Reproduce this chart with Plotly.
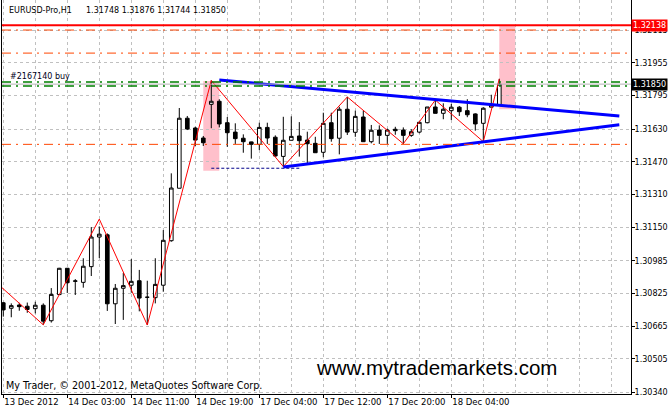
import plotly.graph_objects as go

# ---------------- data ----------------
bar_idx = list(range(63))  # hourly bars, 13 Dec 19:00 ... 18 Dec 10:00

open_ = [1.30779, 1.30752, 1.30768, 1.30762, 1.30750, 1.30767, 1.30691, 1.30819, 1.30948, 1.30884,
         1.30879, 1.30956, 1.31101, 1.31112, 1.30774, 1.30850, 1.30865, 1.30887, 1.30806, 1.30804,
         1.30865, 1.31083, 1.31340, 1.31683, 1.31635, 1.31586, 1.31751, 1.31766, 1.31661, 1.31615,
         1.31585, 1.31567, 1.31555, 1.31638, 1.31590, 1.31496, 1.31575, 1.31596, 1.31576, 1.31560,
         1.31516, 1.31661, 1.31585, 1.31727, 1.31614, 1.31689, 1.31568, 1.31625, 1.31599, 1.31629,
         1.31625, 1.31599, 1.31615, 1.31661, 1.31738, 1.31707, 1.31720, 1.31737, 1.31720, 1.31704,
         1.31658, 1.31737, 1.31748]
high_ = [1.30783, 1.30776, 1.30779, 1.30780, 1.30784, 1.30776, 1.30851, 1.30950, 1.30949, 1.30895,
         1.30997, 1.31150, 1.31153, 1.31119, 1.30871, 1.30925, 1.30993, 1.30940, 1.30887, 1.30997,
         1.31135, 1.31413, 1.31733, 1.31694, 1.31641, 1.31596, 1.31868, 1.31776, 1.31689, 1.31658,
         1.31604, 1.31568, 1.31661, 1.31661, 1.31599, 1.31690, 1.31692, 1.31664, 1.31617, 1.31592,
         1.31710, 1.31710, 1.31739, 1.31788, 1.31720, 1.31720, 1.31650, 1.31648, 1.31632, 1.31641,
         1.31638, 1.31629, 1.31666, 1.31738, 1.31772, 1.31756, 1.31753, 1.31743, 1.31776, 1.31707,
         1.31737, 1.31798, 1.31876]
low_ = [1.30711, 1.30708, 1.30740, 1.30730, 1.30727, 1.30671, 1.30682, 1.30818, 1.30827, 1.30817,
        1.30853, 1.30910, 1.30998, 1.30739, 1.30675, 1.30695, 1.30828, 1.30737, 1.30670, 1.30776,
        1.30833, 1.31078, 1.31340, 1.31625, 1.31547, 1.31547, 1.31634, 1.31638, 1.31543, 1.31557,
        1.31514, 1.31485, 1.31527, 1.31557, 1.31495, 1.31446, 1.31575, 1.31495, 1.31459, 1.31514,
        1.31492, 1.31568, 1.31506, 1.31601, 1.31592, 1.31567, 1.31560, 1.31557, 1.31557, 1.31602,
        1.31557, 1.31592, 1.31609, 1.31658, 1.31707, 1.31678, 1.31674, 1.31694, 1.31688, 1.31622,
        1.31568, 1.31737, 1.31744]
close_ = [1.30744, 1.30765, 1.30760, 1.30746, 1.30767, 1.30689, 1.30820, 1.30948, 1.30877, 1.30886,
          1.30958, 1.31101, 1.31115, 1.30774, 1.30850, 1.30863, 1.30884, 1.30802, 1.30806, 1.30869,
          1.31085, 1.31341, 1.31683, 1.31630, 1.31576, 1.31563, 1.31766, 1.31655, 1.31612, 1.31583,
          1.31568, 1.31555, 1.31638, 1.31586, 1.31498, 1.31575, 1.31594, 1.31573, 1.31558, 1.31514,
          1.31658, 1.31583, 1.31727, 1.31615, 1.31692, 1.31568, 1.31624, 1.31599, 1.31625, 1.31622,
          1.31599, 1.31617, 1.31663, 1.31738, 1.31707, 1.31727, 1.31737, 1.31715, 1.31700, 1.31655,
          1.31732, 1.31748, 1.31850]

# ZigZag indicator pivots (bar index, price)
zz_idx = [-4, 5, 12, 18, 26, 35, 43, 50, 54, 60, 62]
zz_val = [1.30988, 1.30671, 1.31189, 1.30670, 1.31868, 1.31446, 1.31787, 1.31558, 1.31772, 1.31568, 1.31876]

# triangle trend lines
upper_idx = [27, 77]
upper_val = [1.31870, 1.31694]
lower_idx = [35, 77]
lower_val = [1.31444, 1.31651]
dotted_idx = [26, 37]
dotted_val = [1.31438, 1.31438]

# pink signal boxes: (bar from, bar to, price low, price high)
pink_boxes = [(25, 27, 1.31426, 1.31865), (62, 64, 1.31727, 1.32138)]

# horizontal levels
red_level = 1.32138
orange_levels = [1.32115, 1.32002, 1.31555]
green_levels = [1.31860, 1.31841]
bid_level = 1.31850

# axes
x_tick_idx = [0, 8, 16, 24, 32, 40, 48, 56]
x_tick_text = ["13 Dec 2012", "14 Dec 03:00", "14 Dec 11:00", "14 Dec 19:00",
               "17 Dec 04:00", "17 Dec 12:00", "17 Dec 20:00", "18 Dec 04:00"]
x_minor_idx = [4, 12, 20, 28, 36, 44, 52, 60, 64, 68, 72, 76]
y_ticks = [1.30340, 1.30505, 1.30665, 1.30825, 1.30985, 1.31150, 1.31310,
           1.31470, 1.31630, 1.31795, 1.31955, 1.32115]

symbol_text = "EURUSD-Pro,H1"
ohlc_text = "1.31748 1.31876 1.31744 1.31850"

# ---------------- figure ----------------
FONT = "DejaVu Sans"
WM_FONT = "Liberation Sans"
GRID = "#c0c0c0"
GDASH = "3px,3px"

fig = go.Figure()

fig.add_trace(go.Candlestick(
    x=bar_idx, open=open_, high=high_, low=low_, close=close_,
    increasing=dict(line=dict(color="black", width=1), fillcolor="white"),
    decreasing=dict(line=dict(color="black", width=1), fillcolor="black"),
    whiskerwidth=0, showlegend=False, hoverinfo="skip"))

fig.add_trace(go.Scatter(x=zz_idx, y=zz_val, mode="lines",
                         line=dict(color="#ff0000", width=1), showlegend=False, hoverinfo="skip"))
fig.add_trace(go.Scatter(x=upper_idx, y=upper_val, mode="lines",
                         line=dict(color="#0000ff", width=3), showlegend=False, hoverinfo="skip"))
fig.add_trace(go.Scatter(x=lower_idx, y=lower_val, mode="lines",
                         line=dict(color="#0000ff", width=3), showlegend=False, hoverinfo="skip"))
fig.add_trace(go.Scatter(x=dotted_idx, y=dotted_val, mode="lines",
                         line=dict(color="#00008b", width=1, dash="3px,2px"),
                         showlegend=False, hoverinfo="skip"))

shapes = []
for x0, x1, y0, y1 in pink_boxes:
    shapes.append(dict(type="rect", xref="x", yref="y", x0=x0, x1=x1, y0=y0, y1=y1,
                       fillcolor="#ffc0cb", line=dict(width=0), layer="below"))
for lv in orange_levels:
    shapes.append(dict(type="line", xref="paper", yref="y", x0=0, x1=1, y0=lv, y1=lv,
                       line=dict(color="#ff4500", width=1, dash="9px,5px,2px,5px"), layer="above"))
shapes.append(dict(type="line", xref="paper", yref="y", x0=0, x1=1, y0=bid_level, y1=bid_level,
                   line=dict(color="#b4b4b4", width=1), layer="above"))
for lv in green_levels:
    shapes.append(dict(type="line", xref="paper", yref="y", x0=0, x1=1, y0=lv, y1=lv,
                       line=dict(color="#008000", width=1.5, dash="9px,5px,2px,5px"), layer="above"))
shapes.append(dict(type="line", xref="paper", yref="y", x0=0, x1=1, y0=red_level, y1=red_level,
                   line=dict(color="#ff0000", width=2), layer="above"))

PLOT_W = 629.0
PLOT_H = 394.0
def px_(x):
    return (x - 2) / PLOT_W
def py(y):
    return 1 - y / PLOT_H

annotations = [
    dict(text=symbol_text, xref="paper", yref="paper", x=px_(6.5), y=py(10.5), xanchor="left",
         yanchor="middle", showarrow=False, font=dict(family=FONT, size=8, color="black")),
    dict(text=ohlc_text, xref="paper", yref="paper", x=px_(83.5), y=py(10.5), xanchor="left",
         yanchor="middle", showarrow=False, font=dict(family=FONT, size=8, color="black")),
    dict(text="#2167140 buy", xref="paper", yref="paper", x=px_(7.5), y=py(77), xanchor="left",
         yanchor="middle", showarrow=False, font=dict(family=FONT, size=8, color="#000020")),
    dict(text="www.mytrademarkets.com", xref="paper", yref="paper", x=px_(314), y=py(367),
         xanchor="left", yanchor="middle", showarrow=False,
         font=dict(family=WM_FONT, size=20.5, color="black")),
    dict(text="My Trader, \u00a9 2001-2012, MetaQuotes Software Corp.", xref="paper", yref="paper",
         x=px_(4), y=py(385), xanchor="left", yanchor="middle", showarrow=False,
         font=dict(family=FONT, size=9.6, color="black")),
    dict(text=f"{red_level:.5f}", xref="paper", yref="y", x=1.0, y=red_level, xanchor="left",
         yanchor="middle", showarrow=False, bgcolor="#ff0000", borderpad=1,
         font=dict(family=FONT, size=8, color="white")),
    dict(text=f"{bid_level:.5f}", xref="paper", yref="y", x=1.0, y=bid_level, xanchor="left",
         yanchor="middle", showarrow=False, bgcolor="black", borderpad=1,
         font=dict(family=FONT, size=8, color="white")),
]

fig.update_layout(
    width=668, height=412,
    margin=dict(l=2, r=37, t=0, b=18, pad=0, autoexpand=False),
    plot_bgcolor="white", paper_bgcolor="white",
    showlegend=False, boxgap=0.35,
    shapes=shapes, annotations=annotations,
    font=dict(family=FONT, size=8.5, color="black"),
    xaxis=dict(range=[-0.16, 78.46], tickmode="array", tickvals=x_tick_idx, ticktext=x_tick_text,
               ticklabelposition="outside right", tickangle=0, automargin=False,
               ticks="outside", ticklen=3, tickcolor="black",
               showgrid=True, gridcolor=GRID, griddash=GDASH, gridwidth=1,
               minor=dict(tickmode="array", tickvals=x_minor_idx, showgrid=True, gridcolor=GRID,
                          griddash=GDASH, ticks=""),
               showline=True, linecolor="black", linewidth=1, zeroline=False,
               rangeslider=dict(visible=False), tickfont=dict(family=FONT, size=8.5, color="black")),
    yaxis=dict(side="right", range=[1.303321, 1.322621], tickmode="array", tickvals=y_ticks,
               ticktext=[f"{v:.5f}" for v in y_ticks], ticks="outside", ticklen=3,
               tickangle=0, automargin=False, ticklabelstandoff=-2,
               tickcolor="black", showgrid=True, gridcolor=GRID, griddash=GDASH, gridwidth=1,
               showline=True, mirror=True, linecolor="black", linewidth=1, zeroline=False,
               tickfont=dict(family=FONT, size=8, color="black")),
)

fig.write_html("out.html", config={"displayModeBar": False},
               post_script="document.body.style.margin='0';document.body.style.overflow='hidden';")
